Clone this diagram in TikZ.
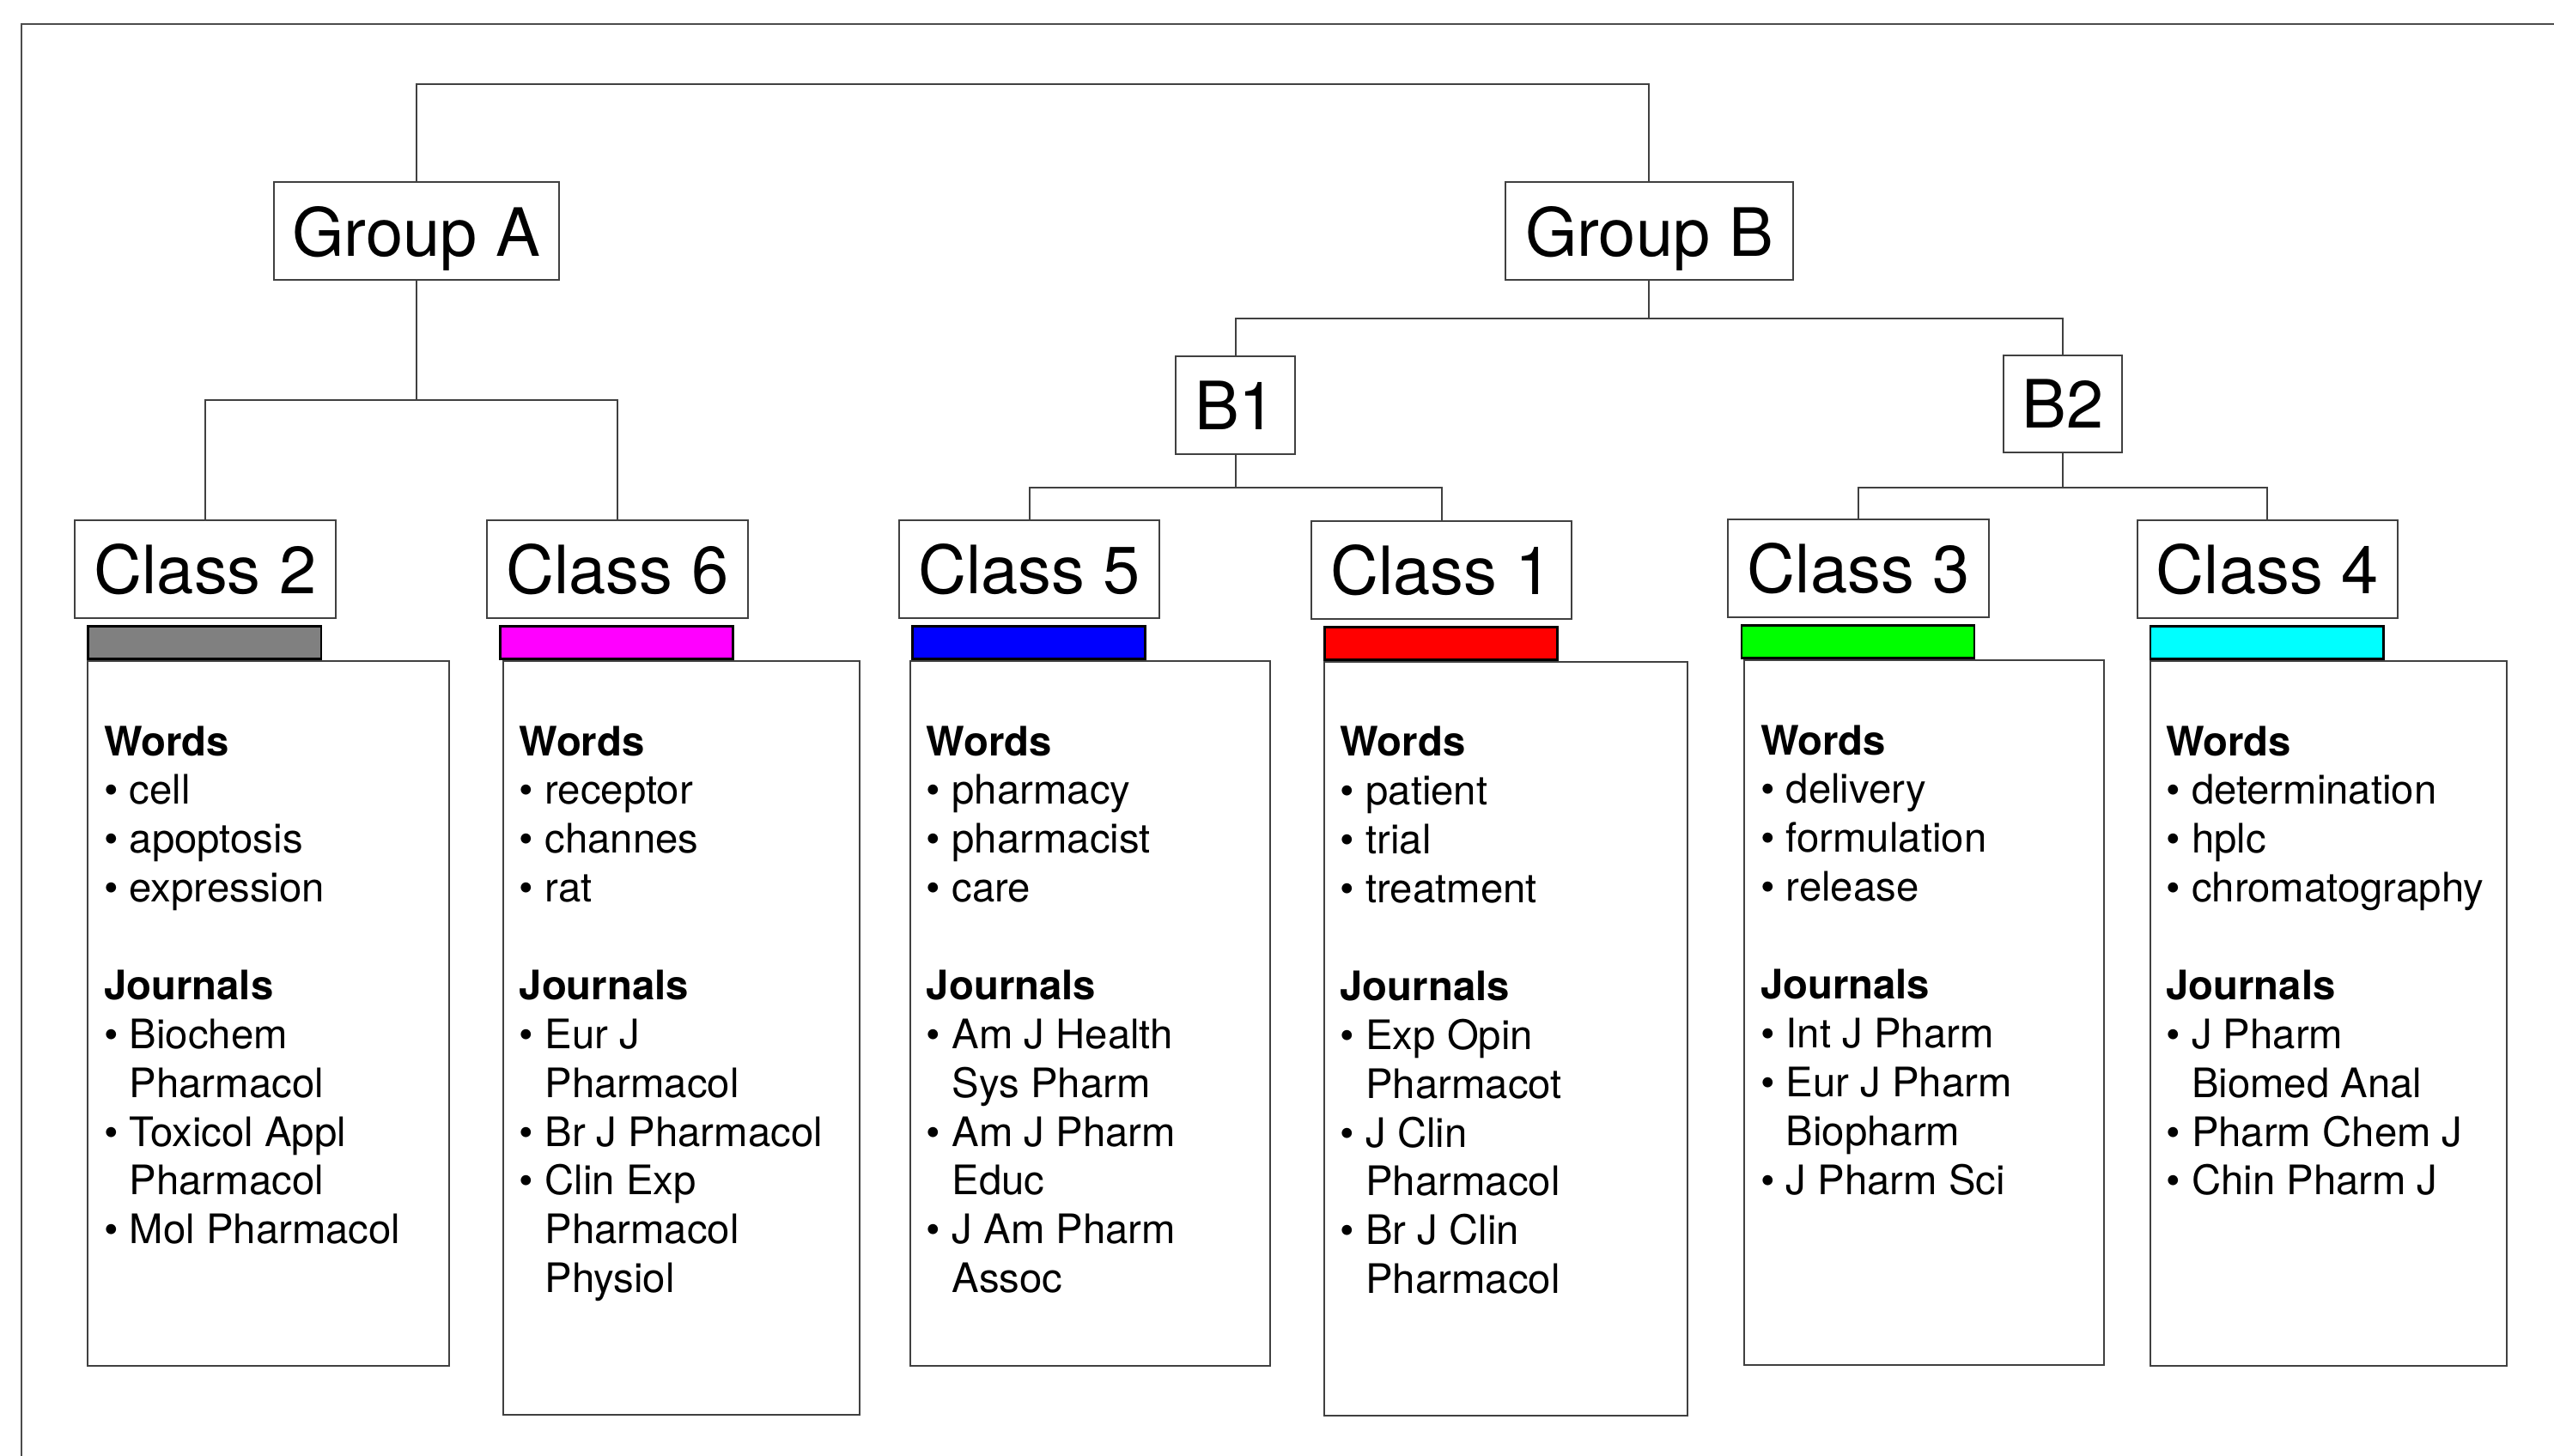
\documentclass[tikz,border=0pt]{standalone}
\usepackage{fontspec}
\setmainfont{TeX Gyre Heros}
\usetikzlibrary{positioning}
\tikzset{>=stealth}
\definecolor{barGray}{RGB}{128,128,128}
\definecolor{barMagenta}{RGB}{255,0,255}
\definecolor{barBlue}{RGB}{0,0,255}
\definecolor{barRed}{RGB}{255,0,0}
\definecolor{barGreen}{RGB}{0,255,0}
\definecolor{barCyan}{RGB}{0,255,255}
\tikzset{
    lbl/.style={draw=black!75, line width=0.6pt, fill=white, inner sep=0pt,
        minimum height=1.2cm, font=\fontsize{23.3}{28}\selectfont},
    grp/.style={lbl, text depth=0pt},
    cls/.style={lbl, minimum width=3.2cm},
    bar/.style={draw=black, line width=0.8pt, minimum width=2.86cm,
        minimum height=0.4cm, inner sep=0pt, anchor=north west},
    info/.style={draw=black!75, line width=0.6pt, inner sep=0pt, anchor=north west},
    txt/.style={inner sep=0pt, align=left, font=\fontsize{14.2}{17.07}\selectfont},
    link/.style={draw=black!75, line width=0.6pt}
}
\newcommand{\bul}{\textbullet\ }
\newcommand{\wrapind}{\hphantom{\textbullet\ }}

\begin{document}
\begin{tikzpicture}[x=0.02cm, y=-0.02cm]
    \useasboundingbox (0,0) rectangle (1568,894);
    \draw[black!70, line width=0.6pt] (1568,15) -- (13,15) -- (13,894);
    % groups
    \node[grp, minimum width=3.5cm] (A) at (255.5,142) {Group A};
    \node[grp, minimum width=3.54cm] (B) at (1012.5,142) {Group B};
    \node[lbl, minimum width=1.46cm] (B1) at (758.5,249) {B1};
    \node[lbl, minimum width=1.46cm] (B2) at (1266.5,248) {B2};
    % classes
    \node[cls] (C2) at (126,349.5) {Class 2};
    \node[cls] (C6) at (379,349.5) {Class 6};
    \node[cls] (C5) at (632,349.5) {Class 5};
    \node[cls] (C1) at (885,350) {Class 1};
    \node[cls] (C3) at (1141,349) {Class 3};
    \node[cls] (C4) at (1392,349.5) {Class 4};
    % colour bars and boxes
    \foreach \c/\col/\dx/\bw/\bh in {2/barGray/0/4.44/8.66, 6/barMagenta/2/4.38/9.26,
        5/barBlue/-1/4.42/8.66, 1/barRed/0/4.46/9.26, 3/barGreen/2/4.42/8.66,
        4/barCyan/0/4.38/8.66}{
        \node[bar, fill=\col] (bar\c) at ([shift={(8,4)}]C\c.south west) {};
        \node[info, minimum width=\bw cm, minimum height=\bh cm] (I\c)
            at ([xshift=\dx*0.02cm]bar\c.south west) {};
    }
    % tree links
    \draw[link] (A.north) -- ++(0,-60) -| (B.north);
    \draw[link] (A.south) -- ++(0,73) coordinate (a1);
    \draw[link] (C2.north) |- (a1) -| (C6.north);
    \draw[link] (B.south) -- ++(0,23) coordinate (b0);
    \draw[link] (B1.north) |- (b0) -| (B2.north);
    \draw[link] (B1.south) -- ++(0,20) coordinate (b1);
    \draw[link] (C5.north) |- (b1) -| (C1.north);
    \draw[link] (B2.south) -- ++(0,21) coordinate (b2);
    \draw[link] (C3.north) |- (b2) -| (C4.north);
    % texts
    \node[txt, below right=0.8cm and 0.2cm of I2.north west] (T2) {\textbf{Words}\\
        \bul cell\\ \bul apoptosis\\ \bul expression\\[17.07pt]
        \textbf{Journals}\\ \bul Biochem\\ \wrapind Pharmacol\\ \bul Toxicol Appl\\
        \wrapind Pharmacol\\ \bul Mol Pharmacol};
    \node[txt, below right=0.8cm and 0.2cm of I6.north west] (T6) {\textbf{Words}\\
        \bul receptor\\ \bul channes\\ \bul rat\\[17.07pt]
        \textbf{Journals}\\ \bul Eur J\\ \wrapind Pharmacol\\ \bul Br J Pharmacol\\
        \bul Clin Exp\\ \wrapind Pharmacol\\ \wrapind Physiol};
    \node[txt, below right=0.8cm and 0.2cm of I5.north west] (T5) {\textbf{Words}\\
        \bul pharmacy\\ \bul pharmacist\\ \bul care\\[17.07pt]
        \textbf{Journals}\\ \bul Am J Health\\ \wrapind Sys Pharm\\ \bul Am J Pharm\\
        \wrapind Educ\\ \bul J Am Pharm\\ \wrapind Assoc};
    \node[txt, below right=0.8cm and 0.2cm of I1.north west] (T1) {\textbf{Words}\\
        \bul patient\\ \bul trial\\ \bul treatment\\[17.07pt]
        \textbf{Journals}\\ \bul Exp Opin\\ \wrapind Pharmacot\\ \bul J Clin\\
        \wrapind Pharmacol\\ \bul Br J Clin\\ \wrapind Pharmacol};
    \node[txt, below right=0.8cm and 0.2cm of I3.north west] (T3) {\textbf{Words}\\
        \bul delivery\\ \bul formulation\\ \bul release\\[17.07pt]
        \textbf{Journals}\\ \bul Int J Pharm\\ \bul Eur J Pharm\\ \wrapind Biopharm\\
        \bul J Pharm Sci};
    \node[txt, below right=0.8cm and 0.2cm of I4.north west] (T4) {\textbf{Words}\\
        \bul determination\\ \bul hplc\\ \bul chromatography\\[17.07pt]
        \textbf{Journals}\\ \bul J Pharm\\ \wrapind Biomed Anal\\ \bul Pharm Chem J\\
        \bul Chin Pharm J};
\end{tikzpicture}
\end{document}
